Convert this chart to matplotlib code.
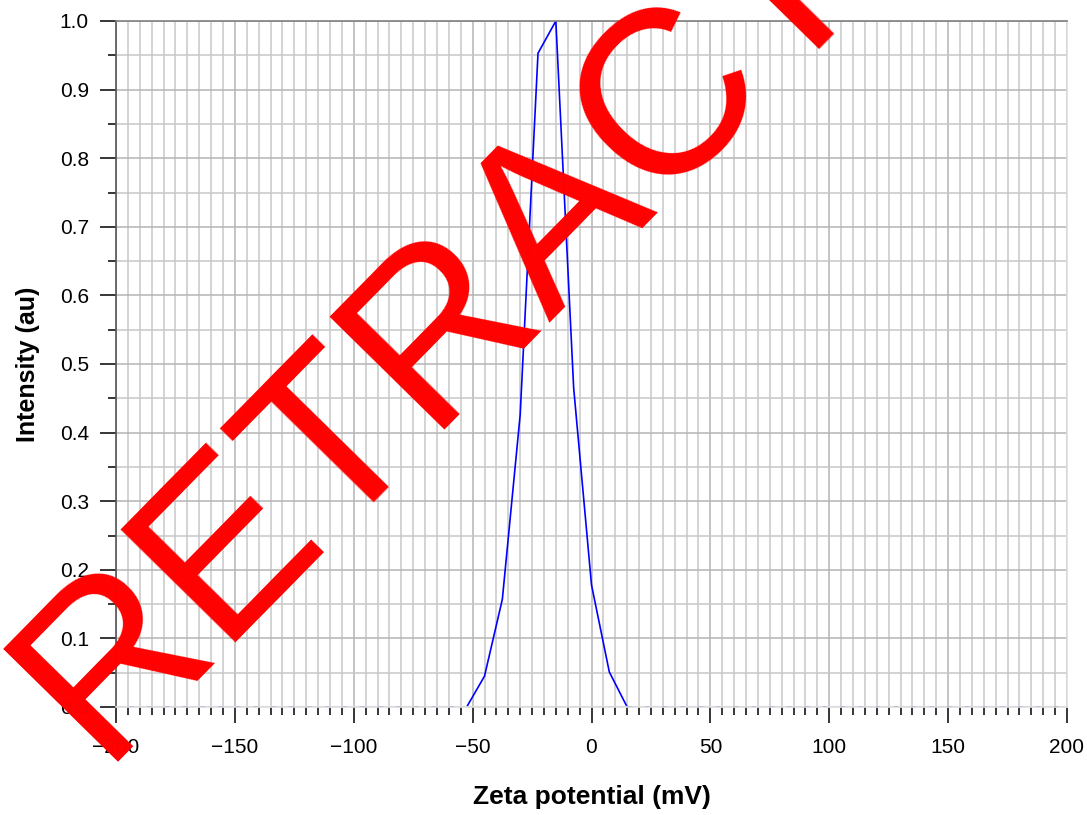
import numpy as np
import matplotlib.pyplot as plt
from matplotlib.ticker import MultipleLocator, FormatStrFormatter
from matplotlib.transforms import IdentityTransform

plt.rcParams['font.family'] = ['Liberation Sans', 'DejaVu Sans']

# Datos
zeta = [-200, -52.5, -45, -37.5, -30, -22.5, -15, -7.5, 0, 7.5, 15, 200]
intensity = [0, 0, 0.045, 0.157, 0.426, 0.953, 1.0, 0.465, 0.178, 0.051, 0, 0]
x_ticks = [-200, -150, -100, -50, 0, 50, 100, 150, 200]

fig = plt.figure(figsize=(10.87, 8.15), dpi=100)
ax = fig.add_axes([116 / 1087, 1 - 707 / 815, (1067 - 116) / 1087, (707 - 21) / 815])

ax.set_xlim(-200, 200)
ax.set_ylim(0, 1.0)
ax.set_xticks(x_ticks)
ax.xaxis.set_minor_locator(MultipleLocator(5))
ax.yaxis.set_major_locator(MultipleLocator(0.1))
ax.yaxis.set_minor_locator(MultipleLocator(0.05))
ax.yaxis.set_major_formatter(FormatStrFormatter('%.1f'))

# Rejilla
ax.grid(which='major', color='#b4b4b4', lw=1.1, zorder=0)
ax.grid(which='minor', color='#c8c8c8', lw=1.1, zorder=0)
ax.set_axisbelow(True)

ax.plot(zeta, intensity, color='#0000ff', lw=1.2, zorder=2)
ax.axhline(0, color='#dcdcdc', lw=1.6, zorder=3, dashes=(6, 2))

ax.tick_params(which='major', direction='out', length=11.5, width=1.1, labelsize=15, color='black')
ax.tick_params(which='minor', direction='out', length=6, width=1.1, color='black')
ax.tick_params(axis='x', pad=11)
ax.tick_params(axis='y', pad=8)

for side, col in [('left', '#555555'), ('top', '#808080'), ('right', '#dddddd'), ('bottom', '#dddddd')]:
    ax.spines[side].set_color(col)
    ax.spines[side].set_linewidth(1.2)

ax.set_xlabel('Zeta potential (mV)', fontsize=19, fontweight='bold', labelpad=20)
ax.set_ylabel('Intensity (au)', fontsize=18, fontweight='bold', labelpad=14)

# Marca de agua
fig.text(99, 815 - 762, 'RETRACTED', transform=IdentityTransform(), rotation=45.5,
         rotation_mode='anchor', ha='left', va='baseline', fontsize=168,
         color='#ff0000', zorder=10)

fig.savefig('out.png', dpi=100)
